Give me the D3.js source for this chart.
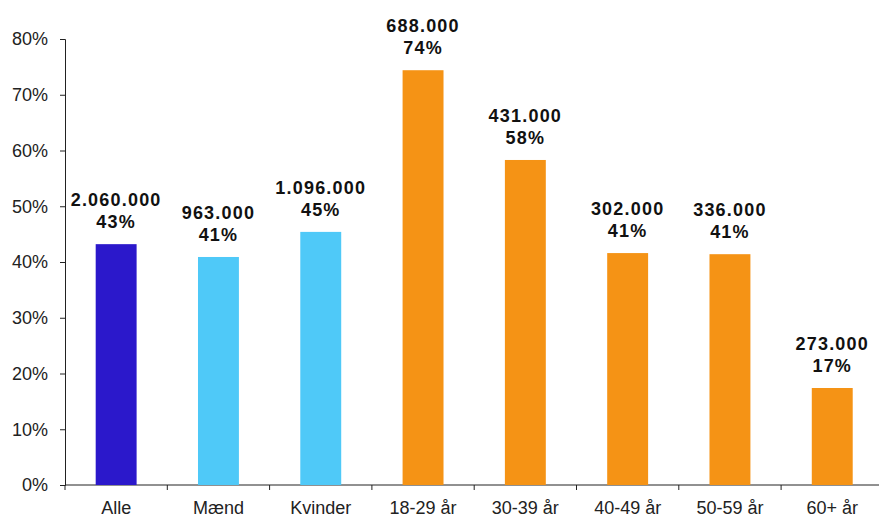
<!DOCTYPE html>
<html>
<head>
<meta charset="utf-8">
<script src="https://cdn.jsdelivr.net/npm/d3@7"></script>
<style>
  body { margin: 0; background: #fff; }
  svg { display: block; font-family: "Liberation Sans", Arial, sans-serif; }
  .axis text { fill: #222; font-size: 18px; }
  .axis path, .axis line { stroke: #222; }
  .lbl { font-weight: bold; font-size: 18px; fill: #111; letter-spacing: 1.2px; }
</style>
</head>
<body>
<div class="chart"></div>
<script>
// DATA
const categories = ['Alle', 'Mænd', 'Kvinder', '18-29 år', '30-39 år', '40-49 år', '50-59 år', '60+ år']
const shares = [43.2, 40.9, 45.4, 74.4, 58.3, 41.6, 41.4, 17.4]
const counts = ['2.060.000', '963.000', '1.096.000', '688.000', '431.000', '302.000', '336.000', '273.000']
const pctLabels = ['43%', '41%', '45%', '74%', '58%', '41%', '41%', '17%']
const groups = ['total', 'gender', 'gender', 'age', 'age', 'age', 'age', 'age']
const yTicks = [0, 10, 20, 30, 40, 50, 60, 70, 80]

const colors = { total: '#2b18cb', gender: '#4fc9f8', age: '#f59315' }

// SIZING
var margin = { top: 39, right: 0, bottom: 33, left: 65 }
var W = 879, H = 518
var width = W - margin.left - margin.right
var height = H - margin.top - margin.bottom
var band = 102.3

var svg = d3.select('div.chart')
  .append('svg')
  .attr('width', W)
  .attr('height', H)
  .append('g')
  .attr('transform', 'translate(' + margin.left + ',' + margin.top + ')')

var x = d3.scaleBand()
  .domain(categories)
  .range([0, band * 8])
  .paddingInner(0.6)
  .paddingOuter(0.3)

var y = d3.scaleLinear()
  .domain([0, 80])
  .range([height, 0])

// Y-AXIS
svg.append('g')
  .attr('class', 'axis')
  .call(d3.axisLeft(y).tickValues(yTicks).tickFormat(d => d + '%').tickSizeOuter(0).tickSize(5).tickPadding(12))

// X-AXIS (ticks between bands)
var xg = svg.append('g')
  .attr('class', 'axis')
  .attr('transform', 'translate(0,' + height + ')')
xg.append('line').attr('x1', 0).attr('x2', width).attr('y1', 0).attr('y2', 0).attr('stroke', '#222')
xg.selectAll('line.tk')
  .data(d3.range(8))
  .enter()
  .append('line')
  .attr('class', 'tk')
  .attr('x1', i => i * band).attr('x2', i => i * band)
  .attr('y1', 0).attr('y2', 5)
  .attr('stroke', '#222')
xg.selectAll('text')
  .data(categories)
  .enter()
  .append('text')
  .attr('x', d => x(d) + x.bandwidth() / 2)
  .attr('y', 29)
  .style('text-anchor', 'middle')
  .text(d => d)

// BARS
svg.selectAll('rect.bar')
  .data(categories)
  .enter()
  .append('rect')
  .attr('class', 'bar')
  .attr('x', d => x(d))
  .attr('width', x.bandwidth())
  .attr('y', (d, i) => y(shares[i]))
  .attr('height', (d, i) => height - y(shares[i]))
  .attr('fill', (d, i) => colors[groups[i]])

// LABELS
svg.selectAll('text.cnt')
  .data(categories)
  .enter()
  .append('text')
  .attr('class', 'lbl cnt')
  .attr('x', d => x(d) + x.bandwidth() / 2)
  .attr('y', (d, i) => y(shares[i]) - 38)
  .style('text-anchor', 'middle')
  .text((d, i) => counts[i])

svg.selectAll('text.pct')
  .data(categories)
  .enter()
  .append('text')
  .attr('class', 'lbl pct')
  .attr('x', d => x(d) + x.bandwidth() / 2)
  .attr('y', (d, i) => y(shares[i]) - 16)
  .style('text-anchor', 'middle')
  .text((d, i) => pctLabels[i])
</script>
</body>
</html>
